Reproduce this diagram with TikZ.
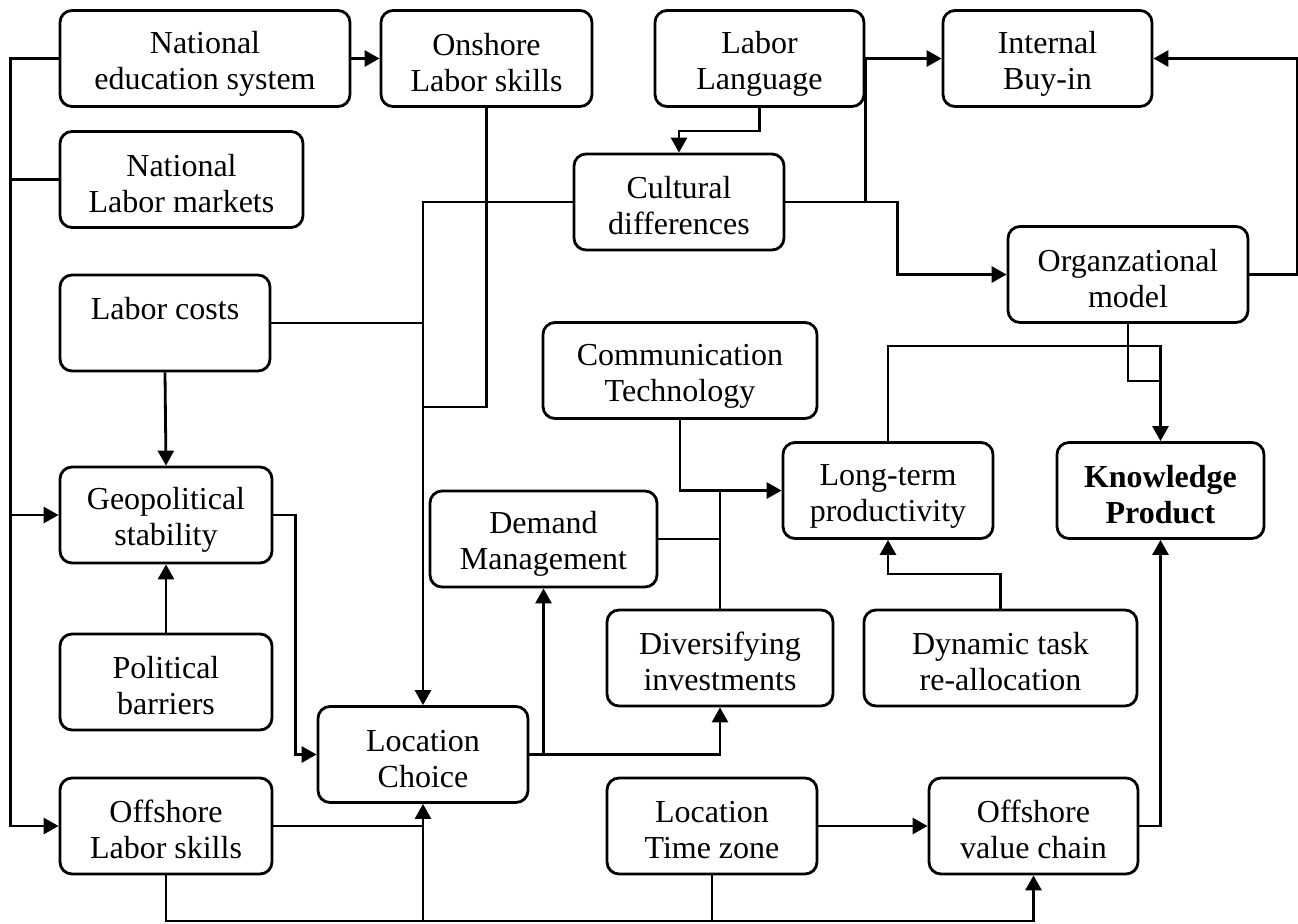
\documentclass[tikz,border=0pt]{standalone}
\usepackage{fontspec}
\setmainfont{Liberation Serif}
\usetikzlibrary{arrows.meta}
\newcommand\tl{\rule{0pt}{16pt}}
\newcommand\bl{\rule[-1.5pt]{0pt}{1.5pt}}
\begin{document}
\begin{tikzpicture}[x=0.5pt,y=-0.5pt,
  box/.style={draw, line width=1.4pt, rounded corners=6pt, align=center,
    font=\fontsize{16pt}{18pt}\selectfont, inner sep=0pt, minimum height=48pt},
  conn/.style={line width=1.4pt},
  arr/.style={conn, -{Triangle[length=7.5pt,width=8pt]}}]
\useasboundingbox (0,0) rectangle (1298,923);
% nodes
\node[box, minimum width=145pt] (nes) at (205,58.5) {\tl National\\education system\bl};
\node[box, minimum width=105.5pt] (ons) at (486.5,58.5) {\tl Onshore\\Labor skills\bl};
\node[box, minimum width=104.5pt] (lang) at (759.5,58.5) {\tl Labor\\Language\bl};
\node[box, minimum width=104.5pt] (buy) at (1047.5,58.5) {\tl Internal\\Buy-in\bl};
\node[box, minimum width=121.5pt] (nlm) at (181.5,179.5) {\tl National\\Labor markets\bl};
\node[box, minimum width=105pt] (cult) at (679,202) {\tl Cultural\\differences\bl};
\node[box, minimum width=120pt] (org) at (1128,274.5) {\tl Organzational\\model\bl};
\node[box, minimum width=105pt] (cost) at (165,323) {\tl Labor costs\\\mbox{}\bl};
\node[box, minimum width=137pt] (comm) at (680,370.5) {\tl Communication\\Technology\bl};
\node[box, minimum width=105pt] (ltp) at (888,490.5) {\tl Long-term\\productivity\bl};
\node[box, minimum width=103.5pt] (kp) at (1160.5,490.5) {\bfseries\tl Knowledge\\\bfseries Product\bl};
\node[box, minimum width=106pt] (geo) at (166,515) {\tl Geopolitical\\stability\bl};
\node[box, minimum width=113.5pt] (dem) at (543.5,539) {\tl Demand\\Management\bl};
\node[box, minimum width=113pt] (div) at (720,658) {\tl Diversifying\\investments\bl};
\node[box, minimum width=136.5pt] (dyn) at (1000.5,658) {\tl Dynamic task\\re-allocation\bl};
\node[box, minimum width=106pt] (pol) at (166,682) {\tl Political\\barriers\bl};
\node[box, minimum width=105pt] (loc) at (423,754.5) {\tl Location\\Choice\bl};
\node[box, minimum width=106pt] (ols) at (166,826) {\tl Offshore\\Labor skills\bl};
\node[box, minimum width=105pt] (ltz) at (712,826) {\tl Location\\Time zone\bl};
\node[box, minimum width=104.5pt] (ovc) at (1033.5,826) {\tl Offshore\\value chain\bl};
\coordinate (bb) at (0,921);
% left bus
\draw[arr] (nes.west) -- ++(-48,0) |- (geo.west);
\draw[arr] (nes.west) -- ++(-48,0) |- (ols.west);
\draw[conn] (nlm.west) -- ++(-48,0);
\draw[arr] (nes.east) -- (ons.west);
% into location choice from top
\draw[arr] (cult.west) -| (loc.north);
\draw[conn] (cost.east) -- (loc.north |- cost.east);
\draw[conn] (ons.south) |- (loc.north |- 0,407);
\draw[arr] (cost.south) -- (geo.north);
\draw[arr] (pol.north) -- (geo.south);
\draw[arr] (geo.east) -- ++(22,0) |- (loc.west);
\draw[conn] (ols.east) -- (loc.south |- ols.east);
% bottom bus
\draw[arr] (ols.south) |- (loc.south |- bb) -- (loc.south);
\draw[arr] (ols.south) |- (ovc.south |- bb) -- (ovc.south);
\draw[conn] (ltz.south) -- (ltz.south |- bb);
\draw[arr] (ltz.east) -- (ovc.west);
\draw[arr] (ovc.east) -| (kp.south);
% location choice outputs
\draw[arr] (loc.east) -| (div.south);
\draw[arr] (loc.east) -| (dem.south);
% long-term productivity inputs
\draw[arr] (comm.south) |- (ltp.west);
\draw[conn] (div.north) -- (div.north |- ltp.west);
\draw[conn] (dem.east) -- (div.north |- dem.east);
\draw[arr] (dyn.north) |- (ltp.south |- 0,574) -- (ltp.south);
% knowledge product inputs
\draw[arr] (ltp.north) |- (kp.north |- 0,346) -- (kp.north);
\draw[conn] (org.south) |- (kp.north |- 0,381);
% top right
\draw[arr] (org.east) -- ++(48,0) |- (buy.east);
\draw[arr] (lang.east) -- (buy.west);
\draw[arr] (cult.east) -- ++(112,0) |- (org.west);
\draw[conn] (lang.east) -- (lang.east |- cult.east);
\draw[arr] (lang.south) -- ++(0,23) -| (cult.north);
\end{tikzpicture}
\end{document}
